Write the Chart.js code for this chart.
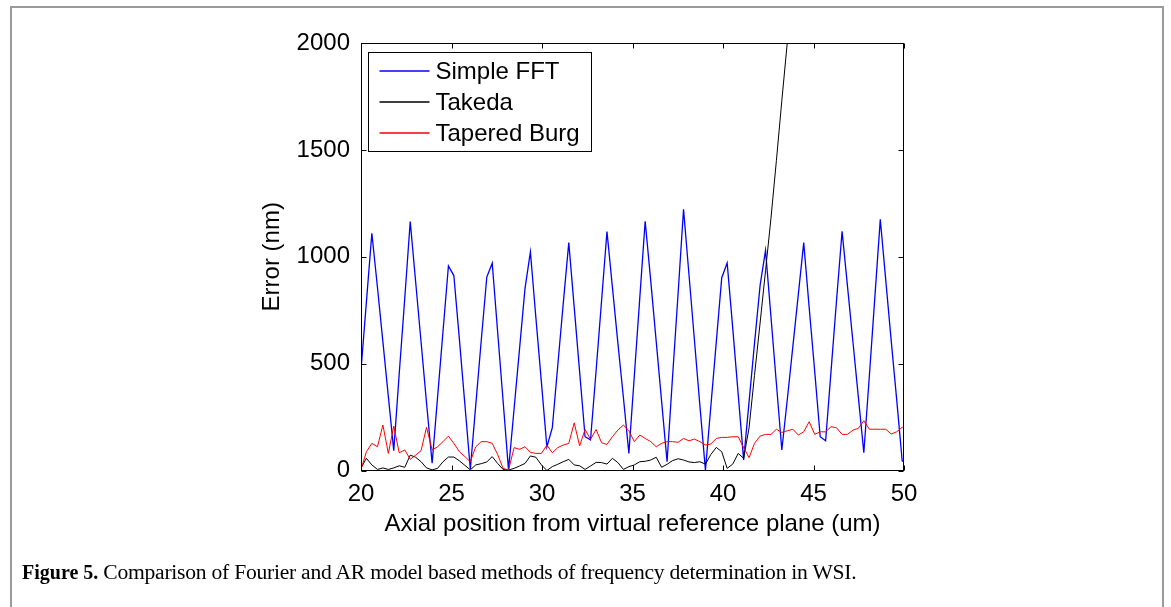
<!DOCTYPE html>
<html>
<head>
<meta charset="utf-8">
<script src="https://cdn.jsdelivr.net/npm/chart.js@4/dist/chart.umd.min.js"></script>
<style>
  html, body { margin:0; padding:0; background:#fff; width:1171px; height:607px; overflow:hidden; }
  #frame { position:absolute; left:10px; top:6px; width:1154px; height:640px; border:2px solid #9a9a9a; box-sizing:border-box; }
  #c { position:absolute; left:0; top:0; }
  #cap { position:absolute; left:22px; top:560px; font-family:'Liberation Serif','DejaVu Serif',serif; font-size:20px; color:#000; white-space:nowrap; }
  #cap span { font-size:21.6px; letter-spacing:-0.25px; }
</style>
</head>
<body>
<div id="frame"></div>
<canvas id="c" width="1171" height="607"></canvas>
<div id="cap"><b>Figure 5.</b> <span>Comparison of Fourier and AR model based methods of frequency determination in WSI.</span></div>
<script>
// Axial positions (um) of the samples
const axialPositions = [20, 20.3, 20.6, 20.91, 21.21, 21.51, 21.81, 22.11, 22.42, 22.72,
  23.02, 23.32, 23.62, 23.93, 24.23, 24.53, 24.83, 25.13, 25.44, 25.74,
  26.04, 26.34, 26.64, 26.95, 27.25, 27.55, 27.85, 28.15, 28.46, 28.76,
  29.06, 29.36, 29.66, 29.97, 30.27, 30.57, 30.87, 31.17, 31.48, 31.78,
  32.08, 32.38, 32.68, 32.99, 33.29, 33.59, 33.89, 34.19, 34.5, 34.8,
  35.1, 35.4, 35.7, 36.01, 36.31, 36.61, 36.91, 37.21, 37.52, 37.82,
  38.12, 38.42, 38.72, 39.03, 39.33, 39.63, 39.93, 40.23, 40.54, 40.84,
  41.14, 41.44, 41.74, 42.05, 42.35, 42.65, 42.95, 43.25, 43.56, 43.86,
  44.16, 44.46, 44.76, 45.07, 45.37, 45.67, 45.97, 46.27, 46.58, 46.88,
  47.18, 47.48, 47.78, 48.09, 48.39, 48.69, 48.99, 49.29, 49.6, 49.9, 50.2];

// Error (nm) per method
const simpleFFT = [470, 790, 1110, 856, 602, 347, 93, 450, 808, 1165,
  882, 600, 317, 34, 342, 650, 957, 912, 610, 308,
  6, 306, 605, 905, 970, 648, 326, 3, 290, 570,
  851, 1023, 717, 410, 110, 200, 490, 778, 1066, 763,
  460, 158, 143, 468, 793, 1118, 858, 598, 339, 80,
  442, 804, 1166, 885, 604, 322, 41, 435, 829, 1222,
  917, 612, 307, 2, 302, 602, 902, 971, 664, 356,
  49, 321, 594, 866, 1030, 719, 407, 96, 338, 581,
  823, 1066, 763, 461, 158, 139, 466, 793, 1119, 860,
  601, 342, 83, 447, 811, 1175, 893, 610, 328, 45, 30];

const takeda = [12, 57, 26, 5, 12, 5, 12, 22, 15, 72,
  62, 41, 12, 3, 10, 41, 63, 63, 45, 24,
  3, 26, 32, 40, 65, 33, 5, 2, 10, 21,
  33, 68, 62, 26, 0, 18, 29, 41, 52, 26,
  22, 5, 21, 38, 37, 30, 57, 37, 5, 18,
  26, 41, 43, 49, 62, 15, 29, 46, 55, 49,
  40, 37, 41, 30, 75, 108, 88, 10, 30, 80,
  57, 200, 445, 690, 935, 1180, 1450, 1730, 2010, 2290,
  null, null, null, null, null, null, null, null, null, null,
  null, null, null, null, null, null, null, null, null, null, null];

const taperedBurg = [5, 88, 127, 111, 213, 80, 208, 83, 96, 52,
  72, 93, 202, 96, 111, 135, 161, 127, 88, 65,
  41, 111, 135, 135, 127, 75, 10, 2, 107, 99,
  111, 85, 80, 80, 119, 83, 107, 119, 127, 223,
  115, 192, 146, 192, 130, 122, 158, 189, 213, 186,
  135, 166, 150, 135, 111, 127, 135, 135, 132, 150,
  139, 147, 135, 119, 124, 150, 155, 155, 158, 158,
  107, 60, 127, 161, 169, 169, 193, 178, 186, 193,
  166, 181, 228, 169, 181, 181, 205, 200, 169, 169,
  189, 197, 233, 193, 193, 193, 193, 171, 181, 202, 215];

const seriesNames = ['Simple FFT', 'Takeda', 'Tapered Burg'];
const seriesColors = ['#0000ff', '#000000', '#ff0000'];
const xTickStep = 5, yTickStep = 500;
const xRange = [20, 50], yRange = [0, 2000];
const xTitle = 'Axial position from virtual reference plane (um)';
const yTitle = 'Error (nm)';

const FONT = "'Liberation Sans', Arial, Helvetica, sans-serif";

function toPoints(ys) { return axialPositions.map((x, i) => ({ x: x, y: ys[i] })); }

const boxPlugin = {
  id: 'matlabBox',
  afterDraw(chart) {
    const { ctx, chartArea: a, scales: { x, y } } = chart;
    ctx.save();
    ctx.strokeStyle = '#000';
    ctx.lineWidth = 1;
    const L = Math.round(a.left) + 0.5, R = Math.round(a.right) - 0.5;
    const T = Math.round(a.top) + 0.5, B = Math.round(a.bottom) - 0.5;
    ctx.strokeRect(L, T, R - L, B - T);
    const tl = 5;
    ctx.beginPath();
    x.ticks.forEach(t => {
      const px = Math.round(x.getPixelForValue(t.value)) + 0.5;
      ctx.moveTo(px, B); ctx.lineTo(px, B - tl);
      ctx.moveTo(px, T); ctx.lineTo(px, T + tl);
    });
    y.ticks.forEach(t => {
      const py = Math.round(y.getPixelForValue(t.value)) + 0.5;
      ctx.moveTo(L, py); ctx.lineTo(L + tl, py);
      ctx.moveTo(R, py); ctx.lineTo(R - tl, py);
    });
    ctx.stroke();

    // legend box inside the axes
    const lx = Math.round(a.left + 7) + 0.5, ly = Math.round(a.top + 9) + 0.5;
    const lw = 223, lh = 99;
    ctx.fillStyle = '#fff';
    ctx.fillRect(lx, ly, lw, lh);
    ctx.strokeStyle = '#000';
    ctx.lineWidth = 1;
    ctx.strokeRect(lx, ly, lw, lh);
    ctx.font = '24px ' + FONT;
    ctx.textBaseline = 'middle';
    ctx.textAlign = 'left';
    chart.data.datasets.forEach((ds, i) => {
      const cy = Math.round(ly + 18 + i * 31);
      ctx.strokeStyle = seriesColors[i];
      ctx.lineWidth = 1.3;
      ctx.beginPath();
      ctx.moveTo(lx + 11, cy);
      ctx.lineTo(lx + 61, cy);
      ctx.stroke();
      ctx.fillStyle = '#000';
      ctx.fillText(ds.label, lx + 67, cy + 1);
    });
    ctx.restore();
  }
};

new Chart(document.getElementById('c'), {
  type: 'line',
  data: {
    datasets: [
      { label: seriesNames[0], data: toPoints(simpleFFT), borderColor: seriesColors[0], borderWidth: 1.3, order: 2 },
      { label: seriesNames[1], data: toPoints(takeda), borderColor: seriesColors[1], borderWidth: 1, order: 1 },
      { label: seriesNames[2], data: toPoints(taperedBurg), borderColor: seriesColors[2], borderWidth: 1, order: 0 }
    ]
  },
  options: {
    responsive: false,
    animation: false,
    devicePixelRatio: 1,
    elements: { point: { radius: 0 }, line: { tension: 0, fill: false } },
    layout: { padding: { left: 0, top: 43, right: 267, bottom: 0 } },
    plugins: { legend: { display: false }, tooltip: { enabled: false } },
    scales: {
      x: {
        type: 'linear', min: xRange[0], max: xRange[1],
        grid: { display: false }, border: { display: false },
        ticks: { stepSize: xTickStep, padding: 1, color: '#000', font: { family: FONT, size: 24 }, maxRotation: 0,
                 callback: v => String(v) },
        title: { display: true, text: xTitle, color: '#000', font: { family: FONT, size: 24 }, padding: { top: 0, bottom: 68 } },
        afterFit(s) { s.height = 607 - 470.5; }
      },
      y: {
        type: 'linear', min: yRange[0], max: yRange[1],
        grid: { display: false }, border: { display: false },
        ticks: { stepSize: yTickStep, padding: 3, color: '#000', font: { family: FONT, size: 24 },
                 callback: v => String(v) },
        title: { display: true, text: yTitle, color: '#000', font: { family: FONT, size: 24 }, padding: { top: 258, bottom: 0 } },
        afterFit(s) { s.width = 361; }
      }
    }
  },
  plugins: [boxPlugin]
});
</script>
</body>
</html>
